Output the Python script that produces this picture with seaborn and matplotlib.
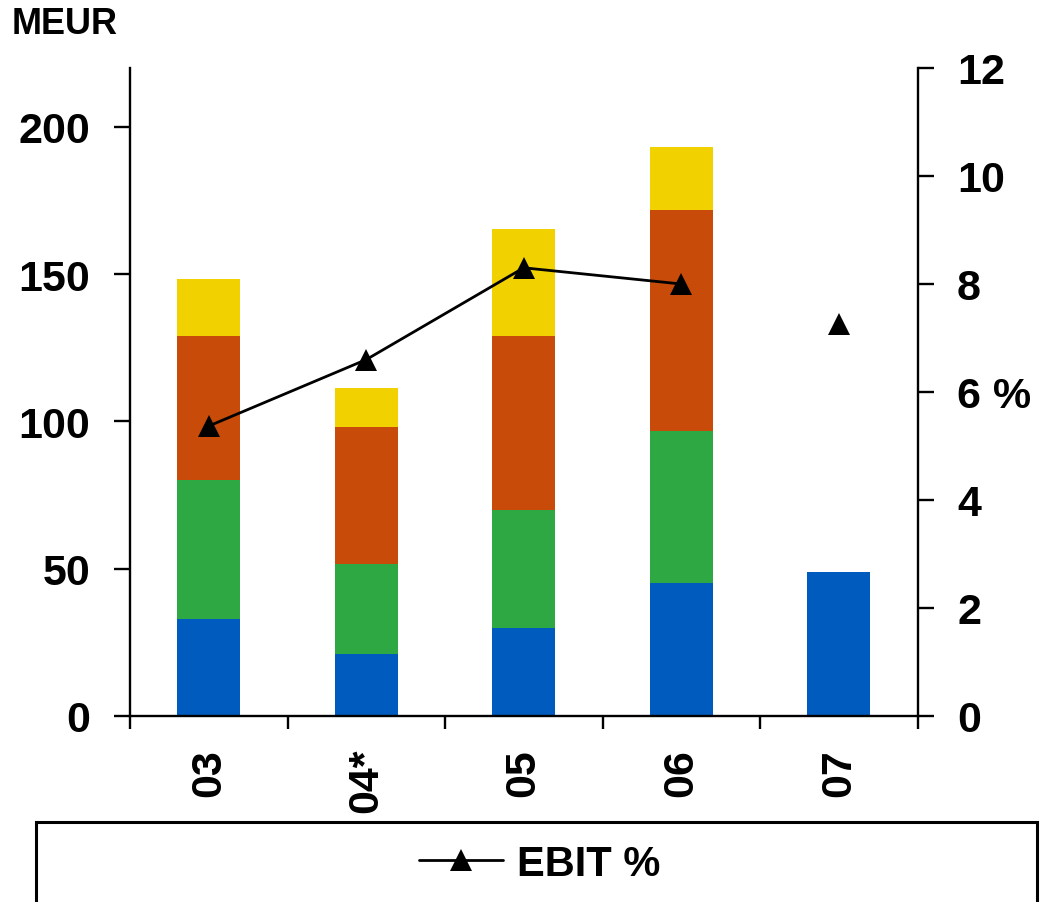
import numpy as np
import pandas as pd
import matplotlib
matplotlib.use("Agg")
import matplotlib.pyplot as plt
from matplotlib.lines import Line2D
from matplotlib.patches import Rectangle
import seaborn as sns

# --- data -------------------------------------------------------------
years = ["03", "04*", "05", "06", "07"]
seg_blue = [33.0, 21.0, 30.0, 45.3, 49.0]
seg_green = [47.0, 30.5, 40.0, 51.5, 0.0]
seg_orange = [49.0, 46.5, 59.0, 75.0, 0.0]
seg_yellow = [19.5, 13.5, 36.5, 21.4, 0.0]
ebit_pct = [5.37, 6.6, 8.3, 8.0, 7.26]

left_ticks = [0, 50, 100, 150, 200]
right_ticks = [0, 2, 4, 6, 8, 10, 12]
right_labels = ["0", "2", "4", "6 %", "8", "10", "12"]

colors = {
    "blue": "#005BBF",
    "green": "#2DA843",
    "orange": "#C84B0A",
    "yellow": "#F2D100",
}

sns.set_theme(style="white")
plt.rcParams["font.family"] = ["Liberation Sans", "DejaVu Sans"]
plt.rcParams["font.weight"] = "bold"
plt.rcParams["text.color"] = "black"
plt.rcParams["xtick.color"] = "black"
plt.rcParams["ytick.color"] = "black"

fig = plt.figure(figsize=(10.46, 9.03), dpi=100)
ax = fig.add_axes([130 / 1046, 1 - 717 / 903, (917.5 - 130) / 1046, (717 - 69) / 903])

# stacked bars drawn as cumulative totals, tallest layer first
layers = [("blue", seg_blue), ("green", seg_green), ("orange", seg_orange), ("yellow", seg_yellow)]
cum = np.cumsum(np.array([v for _, v in layers]), axis=0)
for i in reversed(range(len(layers))):
    df = pd.DataFrame({"year": years, "value": cum[i]})
    sns.barplot(data=df, x="year", y="value", color=colors[layers[i][0]],
                width=0.4, saturation=1, ax=ax, linewidth=0, order=years)

ax.set_xlim(-0.5, len(years) - 0.5)
ax.set_ylim(0, 220)
ax.set_xlabel("")
ax.set_ylabel("")

tick_font = 31
ax.set_yticks(left_ticks)
ax.set_yticklabels([str(t) for t in left_ticks], fontsize=tick_font, fontweight="bold")
ax.tick_params(axis="y", direction="out", length=11.5, width=1.7, pad=17, left=True, colors="black")

# category boundaries carry tick marks, labels sit at bar centres
ax.set_xticks(np.arange(-0.5, len(years)), minor=False)
ax.set_xticklabels([""] * (len(years) + 1))
ax.set_xticks(np.arange(len(years)), minor=True)
ax.set_xticklabels(years, minor=True, rotation=90, fontsize=tick_font, fontweight="bold")
ax.tick_params(axis="x", which="major", direction="out", length=9.5, width=1.7, bottom=True)
ax.tick_params(axis="x", which="minor", length=0, pad=23)

for side in ["top", "right"]:
    ax.spines[side].set_visible(False)
for side in ["left", "bottom"]:
    ax.spines[side].set_color("black")
    ax.spines[side].set_linewidth(1.7)

# EBIT % on the secondary axis
ax2 = ax.twinx()
ax2.set_ylim(0, 12)
x_pos = np.arange(len(years))
ax2.plot(x_pos[:4], ebit_pct[:4], color="black", linewidth=2.0, marker="^",
         markersize=16, markeredgewidth=0)
ax2.plot(x_pos[4:], ebit_pct[4:], linestyle="none", color="black", marker="^",
         markersize=16, markeredgewidth=0)
ax2.set_yticks(right_ticks)
ax2.set_yticklabels(right_labels, fontsize=tick_font, fontweight="bold")
ax2.tick_params(axis="y", direction="out", length=11.5, width=1.7, pad=17, right=True, colors="black")
for side in ["top", "left", "bottom"]:
    ax2.spines[side].set_visible(False)
ax2.spines["right"].set_color("black")
ax2.spines["right"].set_linewidth(1.7)
ax2.grid(False)
ax.grid(False)

fig.text(12 / 1046, 1 - 25 / 903, "MEUR", fontsize=26, fontweight="bold",
         va="center", ha="left", color="black")

# legend box along the bottom edge
fig.add_artist(Rectangle((36 / 1046, 1 - 908 / 903), 1001 / 1046, 85 / 903,
                         transform=fig.transFigure, fill=False, edgecolor="black",
                         linewidth=2.2, clip_on=False))
handle = Line2D([], [], color="black", linewidth=2.0, marker="^", markersize=16,
                markeredgewidth=0)
leg = fig.legend([handle], ["EBIT %"], loc="center", bbox_to_anchor=(540 / 1046, 1 - 865 / 903),
                 frameon=False, handlelength=2.0, handletextpad=0.35,
                 prop={"size": 30, "weight": "bold"})
for t in leg.get_texts():
    t.set_color("black")

fig.savefig("out.png", dpi=100)
